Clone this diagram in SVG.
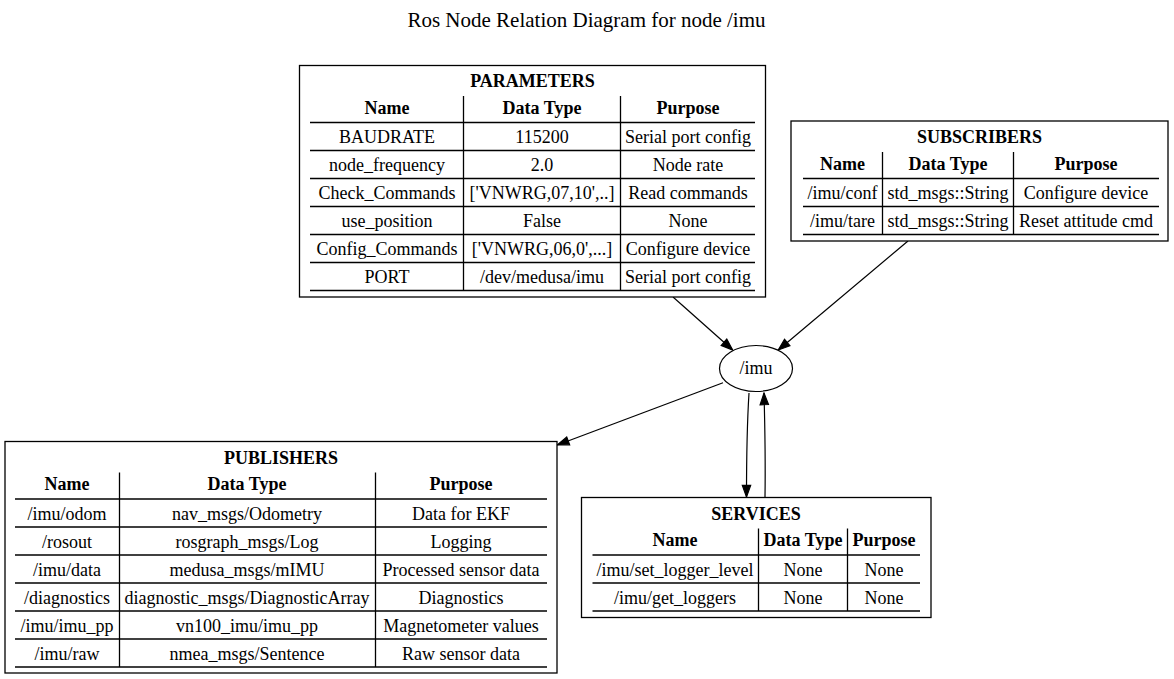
<svg xmlns="http://www.w3.org/2000/svg" width="1174" height="679" viewBox="0 0 1174 679">
<style>
  text { font-family: "Liberation Serif", "Times New Roman", serif; font-size: 18px; text-anchor: middle; fill: #000; }
  .b { font-weight: bold; }
  .title { font-size: 21px; }
  .box { fill: #fff; stroke: #000; stroke-width: 1.3; }
  .rule { stroke: #000; stroke-width: 1.4; }
  .sep { stroke: #000; stroke-width: 1.3; }
  .edge { fill: none; stroke: #000; stroke-width: 1.2; marker-end: url(#arrow); }
  .node { fill: #fff; stroke: #000; stroke-width: 1.2; }
</style>
<defs>
  <marker id="arrow" markerUnits="userSpaceOnUse" markerWidth="14" markerHeight="12" viewBox="-1 -5 12 10" refX="10" refY="0" orient="auto">
    <path d="M0,-3.6 L10,0 L0,3.6 Z" fill="#000" stroke="#000" stroke-width="1"/>
  </marker>
</defs>
<rect width="1174" height="679" fill="#fff"/>
<text class="title" x="586.5" y="26.5">Ros Node Relation Diagram for node /imu</text>

<g id="connectors">
  <path class="edge" d="M673,297 L732.7,350"/>
  <path class="edge" d="M908,241 L778.3,350"/>
  <path class="edge" d="M723,382.7 L557.3,445"/>
  <path class="edge" d="M749,393 C747,425 746.5,455 746.5,497"/>
  <path class="edge" d="M765,497 C765.5,465 765,430 764,393"/>
</g>

<g id="node_imu">
  <ellipse class="node" cx="756" cy="368.5" rx="36.5" ry="23"/>
  <text x="756" y="374">/imu</text>
</g>

<g id="parameters">
  <rect class="box" x="299.5" y="65.5" width="466" height="231.5"/>
  <text class="b" x="532.5" y="87">PARAMETERS</text>
  <line class="sep" x1="463.5" y1="96" x2="463.5" y2="290.5"/>
  <line class="sep" x1="620.5" y1="96" x2="620.5" y2="290.5"/>
  <text class="b" x="387" y="113.5">Name</text>
  <text class="b" x="542" y="113.5">Data Type</text>
  <text class="b" x="688" y="113.5">Purpose</text>
  <line class="rule" x1="310" y1="122.5" x2="755" y2="122.5"/>
  <text x="387" y="143">BAUDRATE</text>
  <text x="542" y="143">115200</text>
  <text x="688" y="143">Serial port config</text>
  <line class="rule" x1="310" y1="150.5" x2="755" y2="150.5"/>
  <text x="387" y="171">node_frequency</text>
  <text x="542" y="171">2.0</text>
  <text x="688" y="171">Node rate</text>
  <line class="rule" x1="310" y1="178.5" x2="755" y2="178.5"/>
  <text x="387" y="199">Check_Commands</text>
  <text x="542" y="199">['VNWRG,07,10',..]</text>
  <text x="688" y="199">Read commands</text>
  <line class="rule" x1="310" y1="206.5" x2="755" y2="206.5"/>
  <text x="387" y="227">use_position</text>
  <text x="542" y="227">False</text>
  <text x="688" y="227">None</text>
  <line class="rule" x1="310" y1="234.5" x2="755" y2="234.5"/>
  <text x="387" y="255">Config_Commands</text>
  <text x="542" y="255">['VNWRG,06,0',...]</text>
  <text x="688" y="255">Configure device</text>
  <line class="rule" x1="310" y1="262.5" x2="755" y2="262.5"/>
  <text x="387" y="283">PORT</text>
  <text x="542" y="283">/dev/medusa/imu</text>
  <text x="688" y="283">Serial port config</text>
  <line class="rule" x1="310" y1="290.5" x2="755" y2="290.5"/>
</g>

<g id="subscribers">
  <rect class="box" x="791" y="121" width="377" height="120"/>
  <text class="b" x="979.5" y="143">SUBSCRIBERS</text>
  <line class="sep" x1="882.5" y1="152" x2="882.5" y2="234.5"/>
  <line class="sep" x1="1013.5" y1="152" x2="1013.5" y2="234.5"/>
  <text class="b" x="842.5" y="169.5">Name</text>
  <text class="b" x="948" y="169.5">Data Type</text>
  <text class="b" x="1086" y="169.5">Purpose</text>
  <line class="rule" x1="803" y1="178.5" x2="1159" y2="178.5"/>
  <text x="842.5" y="199">/imu/conf</text>
  <text x="948" y="199">std_msgs::String</text>
  <text x="1086" y="199">Configure device</text>
  <line class="rule" x1="803" y1="206.5" x2="1159" y2="206.5"/>
  <text x="842.5" y="227">/imu/tare</text>
  <text x="948" y="227">std_msgs::String</text>
  <text x="1086" y="227">Reset attitude cmd</text>
  <line class="rule" x1="803" y1="234.5" x2="1159" y2="234.5"/>
</g>

<g id="publishers">
  <rect class="box" x="5" y="441.5" width="552" height="231.5"/>
  <text class="b" x="281" y="463.5">PUBLISHERS</text>
  <line class="sep" x1="119.5" y1="472.5" x2="119.5" y2="667"/>
  <line class="sep" x1="375.5" y1="472.5" x2="375.5" y2="667"/>
  <text class="b" x="67" y="490">Name</text>
  <text class="b" x="247" y="490">Data Type</text>
  <text class="b" x="461" y="490">Purpose</text>
  <line class="rule" x1="15" y1="499" x2="547" y2="499"/>
  <text x="67" y="519.5">/imu/odom</text>
  <text x="247" y="519.5">nav_msgs/Odometry</text>
  <text x="461" y="519.5">Data for EKF</text>
  <line class="rule" x1="15" y1="527" x2="547" y2="527"/>
  <text x="67" y="547.5">/rosout</text>
  <text x="247" y="547.5">rosgraph_msgs/Log</text>
  <text x="461" y="547.5">Logging</text>
  <line class="rule" x1="15" y1="555" x2="547" y2="555"/>
  <text x="67" y="575.5">/imu/data</text>
  <text x="247" y="575.5">medusa_msgs/mIMU</text>
  <text x="461" y="575.5">Processed sensor data</text>
  <line class="rule" x1="15" y1="583" x2="547" y2="583"/>
  <text x="67" y="603.5">/diagnostics</text>
  <text x="247" y="603.5">diagnostic_msgs/DiagnosticArray</text>
  <text x="461" y="603.5">Diagnostics</text>
  <line class="rule" x1="15" y1="611" x2="547" y2="611"/>
  <text x="67" y="631.5">/imu/imu_pp</text>
  <text x="247" y="631.5">vn100_imu/imu_pp</text>
  <text x="461" y="631.5">Magnetometer values</text>
  <line class="rule" x1="15" y1="639" x2="547" y2="639"/>
  <text x="67" y="659.5">/imu/raw</text>
  <text x="247" y="659.5">nmea_msgs/Sentence</text>
  <text x="461" y="659.5">Raw sensor data</text>
  <line class="rule" x1="15" y1="667" x2="547" y2="667"/>
</g>

<g id="services">
  <rect class="box" x="581.5" y="497.5" width="349.5" height="120"/>
  <text class="b" x="756" y="519.5">SERVICES</text>
  <line class="sep" x1="758.5" y1="528.5" x2="758.5" y2="611"/>
  <line class="sep" x1="847.5" y1="528.5" x2="847.5" y2="611"/>
  <text class="b" x="675" y="546">Name</text>
  <text class="b" x="803" y="546">Data Type</text>
  <text class="b" x="884" y="546">Purpose</text>
  <line class="rule" x1="592.5" y1="555" x2="920" y2="555"/>
  <text x="675" y="575.5">/imu/set_logger_level</text>
  <text x="803" y="575.5">None</text>
  <text x="884" y="575.5">None</text>
  <line class="rule" x1="592.5" y1="583" x2="920" y2="583"/>
  <text x="675" y="603.5">/imu/get_loggers</text>
  <text x="803" y="603.5">None</text>
  <text x="884" y="603.5">None</text>
  <line class="rule" x1="592.5" y1="611" x2="920" y2="611"/>
</g>
</svg>
